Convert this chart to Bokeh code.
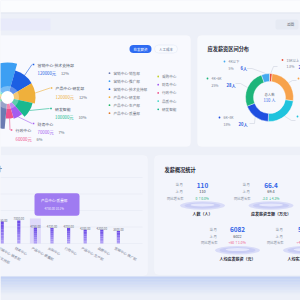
import math
from bokeh.plotting import figure
from bokeh.models import Range1d, BoxAnnotation, Label
from bokeh.core.properties import value
from bokeh.embed import file_html
from bokeh.resources import INLINE

FONT = "Noto Sans CJK SC"

# ---------------- data ----------------
# rose pie: salary by department (clockwise order)
pie_depts = ["营销中心-推广部", "营销中心-技术支持部", "产品中心-研发部", "研发智能", "财务中心",
             "行政中心", "营销中心-销售部", "产品中心-生产部", "产品中心-质量部", "采购中心", "品质中心"]
pie_values = [180000, 120000, 120000, 100000, 70000, 60000, 150000, 60000, 50000, 50000, 40000]
pie_colors = ["#3d9ff3", "#1c5fe3", "#efb03c", "#19b98f", "#a45cf0", "#ef528d",
              "#6b7bb2", "#22b866", "#e07a2a", "#c3d12e", "#3fd4c4"]
callout_depts = ["营销中心-技术支持部", "产品中心-研发部", "研发智能", "财务中心", "行政中心"]
legend_col1 = ["营销中心-销售部", "营销中心-推广部", "营销中心-技术支持部", "产品中心-研发部", "产品中心-生产部", "产品中心-质量部"]
legend_col2 = ["采购中心", "财务中心", "行政中心", "品质中心", "研发智能"]
pie_buttons = ["在发薪资", "人工成本"]

# donut: salary band distribution (clockwise from top)
band_labels = ["15K以上", "10K~15K", "8K~10K", "6K~8K", "4K~6K", "4K以下"]
band_counts = [2, 28, 26, 20, 28, 6]
band_colors = ["#e9503c", "#f7a24b", "#1fc3dd", "#1f4fe0", "#1eb57a", "#44aaf0"]

# bars: average salary per department
bar_depts = ["营销中心-技术支持部", "营销中心-销售部", "财务中心", "产品中心-质量部", "采购中心",
             "行政中心", "产品中心-生产部", "品质中心", "营销中心-推广部"]
bar_values = [7100, 6650, 7000, 4750, 4720, 4700, 4200, 4200, 3800]
bar_highlight = "产品中心-质量部"

# overview statistics
stat_titles = ["人数（人）", "应发薪资总额（万元）", "人均应发薪资（元）", "人均实发薪资（元）"]
stat_current = [110, 66.4, 6082, 5736]
stat_previous = [110, 69.4, 6022, 5690]
row_labels = ["当  月", "上  月", "同比增长率"]

# ---------------- figure ----------------
BG = "#edf0f8"
p = figure(width=300, height=300, x_range=Range1d(0, 300), y_range=Range1d(300, 0),
           toolbar_location=None, output_backend="svg", min_border=0)
p.axis.visible = False
p.grid.visible = False
p.outline_line_color = None
p.background_fill_color = BG
p.border_fill_color = BG
p.extra_y_ranges = {"bar": Range1d(start=-17272.7, end=73636.4)}


def T(x, y, s, size=4.0, color="#5d6576", align="left", base="middle", bold=False, angle=0.0, yr=None):
    kw = {}
    if yr:
        kw["y_range_name"] = yr
    p.text(x=[x], y=[y], text=[s], text_font=value(FONT), text_font_size=f"{size}px",
           text_color=color, text_align=align, text_baseline=base,
           text_font_style="bold" if bold else "normal", angle=angle, **kw)


def box(l, r, t, b, color, radius=3, line=None, level="underlay", alpha=1.0):
    p.add_layout(BoxAnnotation(left=l, right=r, top=t, bottom=b, fill_color=color, fill_alpha=alpha,
                               line_color=line, line_width=0.6, border_radius=radius, level=level))


# header + background pieces
p.quad(left=[0], right=[300], top=[0], bottom=[12], fill_color="#fbfcfe", line_color=None)
p.segment(x0=[0], x1=[300], y0=[12.5], y1=[12.5], line_color="#e2e6ef", line_width=1)
p.quad(left=[0], right=[50], top=[18], bottom=[30], fill_color="#e6e8fa", line_color=None, fill_alpha=0.8)
box(275, 298, 19, 29, "#e6eaf3", radius=2)
T(290, 24, "返回", size=3.6, color="#555b66", align="center")

# panels
box(-6, 190, 35, 146, "#f8f9fe", radius=4, line="#ffffff")
box(197, 306, 35, 146, "#f7f9fd", radius=4, line="#ffffff")
box(-6, 147, 155, 275, "#f3f5fc", radius=4, line="#ffffff")
box(154, 306, 155, 274, "#f3f5fc", radius=4, line="#ffffff")

# bottom glow band
for i in range(12):
    a = 0.8 * (1 - i / 12)
    p.quad(left=[0], right=[300], top=[276 + i * 1.5], bottom=[277.5 + i * 1.5],
           fill_color="#b9cbf3", fill_alpha=a, line_color=None)

# ---------------- rose pie ----------------
cx, cy = 7, 97
total = sum(pie_values)
vmax = max(pie_values)
start0 = math.radians(74) + pie_values[0] / total * 2 * math.pi
starts, ends, radii = [], [], []
acc = 0.0
for v in pie_values:
    s = start0 - acc / total * 2 * math.pi
    acc += v
    e = start0 - acc / total * 2 * math.pi
    starts.append(s)
    ends.append(e)
    radii.append(14 + 21 * v / vmax)
p.wedge(x=cx, y=cy, radius=radii, start_angle=starts, end_angle=ends, direction="clock",
        fill_color=pie_colors, line_color=None)
p.circle(x=[cx], y=[cy], radius=11.5, fill_color="white", fill_alpha=0.3, line_color=None)
p.circle(x=[cx], y=[cy], radius=6.5, fill_color="white", line_color=None)

callout_pos = [(33, 64), (51, 87.5), (50.5, 108), (33, 123), (11, 129.5)]
for name, (dx, dy) in zip(callout_depts, callout_pos):
    i = pie_depts.index(name)
    mid = (starts[i] + ends[i]) / 2
    ex = cx + radii[i] * math.cos(mid)
    ey = cy - radii[i] * math.sin(mid)
    col = pie_colors[i]
    p.line(x=[ex, dx - 1.5], y=[ey, dy], line_color=col, line_width=0.6)
    p.rect(x=[dx], y=[dy], width=1.6, height=1.6, fill_color=col, line_color=None)
    T(dx + 4, dy, name, size=3.9, color="#4b5366")
    vs = f"{pie_values[i]}元"
    T(dx + 4, dy + 8.5, vs, size=4.3, color=col)
    nd = len(str(pie_values[i]))
    T(dx + 4 + 2.4 * nd + 9, dy + 8.5, f"{round(pie_values[i] / total * 100)}%", size=4.0, color="#6b7280")

# buttons
box(129, 151, 44.5, 52.5, "#2e6bf2", radius=4)
T(140, 48.6, pie_buttons[0], size=3.5, color="#ffffff", align="center")
box(154, 177, 44.5, 52.5, "#f9fbff", radius=4, line="#b8c4e4")
T(165.5, 48.6, pie_buttons[1], size=3.5, color="#5b6b8c", align="center")

# legends
for k, name in enumerate(legend_col1):
    y = 72.7 + 8 * k
    p.circle(x=[109], y=[y], radius=0.9, fill_color=pie_colors[pie_depts.index(name)], line_color=None)
    T(113, y, name, size=3.6, color="#6b7280")
for k, name in enumerate(legend_col2):
    y = 76 + 8.2 * k
    p.circle(x=[157.7], y=[y], radius=0.9, fill_color=pie_colors[pie_depts.index(name)], line_color=None)
    T(161.5, y, name, size=3.6, color="#6b7280")

# ---------------- donut ----------------
T(207, 47.5, "应发薪资区间分布", size=5.2, color="#1f2633", bold=True)
dx0, dy0 = 269, 97
ntot = sum(band_counts)
b_st, b_en = [], []
acc = 0
for c in band_counts:
    b_st.append(math.pi / 2 - acc / ntot * 2 * math.pi)
    acc += c
    b_en.append(math.pi / 2 - acc / ntot * 2 * math.pi)
p.annular_wedge(x=dx0, y=dy0, inner_radius=16, outer_radius=24, start_angle=b_st, end_angle=b_en,
                direction="clock", fill_color=band_colors, line_color="white", line_width=0.4)
T(dx0, 93.8, "总人数", size=3.4, color="#6b7280", align="center")
T(dx0, 99.6, f"{ntot} 人", size=4.2, color="#2f63e6", align="center")

# label layout: dot position, leader end, side
band_layout = [((282, 59.5), (277, 66), 1), ((298, 78), (296, 80), 1), ((297, 116), (295, 120), 1),
               ((219, 117), (249, 123), -1), ((207, 78), (235, 83), -1), ((224, 61), (246.5, 68), -1)]
for i, ((px, py), (lx, ly), side) in enumerate(band_layout):
    mid = (b_st[i] + b_en[i]) / 2
    ex = dx0 + 24.5 * math.cos(mid)
    ey = dy0 - 24.5 * math.sin(mid)
    elbow = lx + 5 if side < 0 else lx - 4
    p.line(x=[ex, elbow, lx], y=[ey, ly, ly], line_color="#c5cbd8", line_width=0.5)
    p.circle(x=[px], y=[py], radius=0.9, fill_color=band_colors[i], line_color=None)
    T(px + 4, py, band_labels[i], size=3.4, color="#7a8294")
    pct = band_counts[i] / ntot * 100
    ps = f"{pct:.1f}%" if pct < 2 else f"{int(pct)}%"
    T(px + 4, py + 6.5, ps, size=3.4, color="#7a8294")
    T(px + 4 + 12 + (3 if side < 0 and len(ps) > 2 else 0), py + 6.5, f"{band_counts[i]}人",
      size=4.2, color="#2f5be0", bold=True)

# ---------------- bars ----------------
T(1.2, 168, "部门人均薪资统计", size=5.2, color="#1f2633", bold=True, align="right")
bar_x = [-14.9 + 16.6 * i for i in range(len(bar_depts))]
for gv in [0, 5000, 10000, 15000, 20000]:
    p.segment(x0=[0], x1=[142], y0=[gv], y1=[gv], y_range_name="bar", line_color="#e3e7f3", line_width=0.5)
hi = bar_depts.index(bar_highlight)
p.quad(left=[bar_x[hi] - 5.5], right=[bar_x[hi] + 5.5], bottom=[0], top=[7600], y_range_name="bar",
       fill_color="#d6cdf8", fill_alpha=0.7, line_color=None)
N = 8
c_top = (0x68, 0x46, 0xe6)
c_bot = (0xb4, 0xa4, 0xf6)
for k in range(N):
    f = (k + 0.5) / N
    col = "#%02x%02x%02x" % tuple(int(c_bot[j] + (c_top[j] - c_bot[j]) * f) for j in range(3))
    p.quad(left=[x - 1.6 for x in bar_x], right=[x + 1.6 for x in bar_x],
           bottom=[v * k / N for v in bar_values], top=[v * (k + 1) / N for v in bar_values],
           y_range_name="bar", fill_color=col, line_color=None)
for x, v in zip(bar_x, bar_values):
    T(x, v, f"{v:.2f}", size=2.9, color="#6b7280", align="center", base="bottom", yr="bar")
for x, name in zip(bar_x, bar_depts):
    T(x - 2.5, -600, name, size=3.4, color="#7a8294", align="left", base="top", angle=-0.5, yr="bar")

# tooltip
bsum = sum(bar_values)
p.add_layout(BoxAnnotation(left=34, right=79, top=192.7, bottom=215.3, fill_color="#9a74f0",
                           fill_alpha=0.95, line_color=None, border_radius=3))
p.add_layout(Label(x=40.5, y=200, text=bar_highlight, text_font=FONT, text_font_size="3.6px",
                   text_color="white", text_baseline="middle"))
p.add_layout(Label(x=44, y=208.3, text=f"{bar_values[hi]:.2f}   {bar_values[hi] / bsum * 100:.1f}%",
                   text_font=FONT, text_font_size="2.9px", text_color="#f1ecff", text_baseline="middle"))

# ---------------- overview stats ----------------
T(164, 169, "发薪概况统计", size=5.2, color="#1f2633", bold=True)
stat_layout = [(183, 202, 184.3), (250, 270.5, 184.3), (217, 237, 229), (283, 305, 229)]


def fmt(v):
    return f"{v:.1f}" if isinstance(v, float) else f"{v}"


for i, (lr, vx, y0) in enumerate(stat_layout):
    cur, prev = stat_current[i], stat_previous[i]
    for k, lab in enumerate(row_labels):
        T(lr, y0 + [0, 7, 13.4][k], lab, size=3.3, color="#7d8596", align="right")
    T(vx, y0 + 0.3, fmt(cur), size=6.4, color="#2f63e6", align="center", bold=True)
    T(vx, y0 + 7, fmt(prev), size=3.8, color="#3b4252", align="center")
    diff = cur - prev
    pct = diff / prev * 100 if prev else 0
    dcol = "#ef5b8c" if diff > 0 else "#1fb37a"
    arrow = "↑" if diff >= 0 else "↓"
    ds = ("+" if diff > 0 else "") + (f"{diff:.1f}" if isinstance(cur, float) else f"{diff}")
    T(vx, y0 + 13.4, f"{ds}  {arrow}{abs(pct):.1f}%", size=3.3, color=dcol, align="center")
    ey = y0 + 20.7
    p.ellipse(x=[vx], y=[ey], width=45, height=8.5, fill_color="#d9dcf8", line_color=None)
    p.ellipse(x=[vx], y=[ey], width=36, height=6, fill_color="#c9cdf5", line_color=None)
    p.ellipse(x=[vx], y=[ey - 0.6], width=24, height=3, fill_color="#e6e8fc", line_color=None)
    T(vx, ey + 8.3, stat_titles[i], size=4.0, color="#1f2633", align="center", bold=True)

open("out.html", "w").write(file_html(p, INLINE))
